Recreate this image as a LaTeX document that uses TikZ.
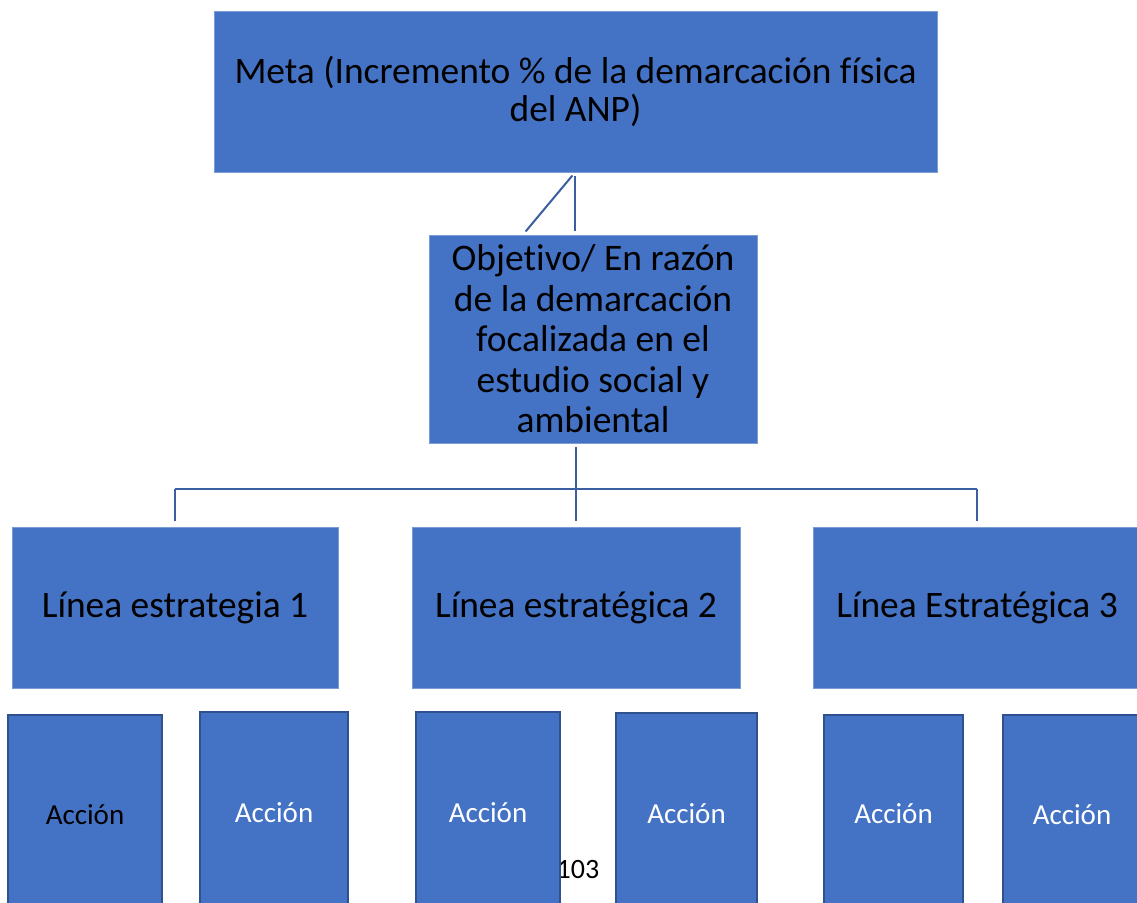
\documentclass[tikz,border=0pt]{standalone}
\usepackage{fontspec}
\setmainfont{Carlito}[Ligatures=CommonOff]
\definecolor{boxblue}{HTML}{4472C4}
\definecolor{darkblue}{HTML}{2F528F}
\definecolor{connblue}{HTML}{3A5E9F}
\begin{document}
\begin{tikzpicture}[x=1pt,y=-1pt,
  bigbox/.style={fill=boxblue, draw=boxblue!70!white, line width=0.8pt, inner sep=0pt, align=center, text=black},
  actbox/.style={fill=boxblue, draw=darkblue, line width=2pt, inner sep=0pt, align=center, text=white,
     font=\fontsize{29}{33}\selectfont},
  conn/.style={draw=connblue, line width=2pt}]
\useasboundingbox (0,0) rectangle (1137,902);
\clip (0,0) rectangle (1137,902);
\fill[white] (0,0) rectangle (1137,902);
% page number
\node[font=\fontsize{28}{30}\selectfont, text=black] (pg) at (578,869) {103};
% top
\node[bigbox, minimum width=723pt, minimum height=161pt, font=\fontsize{37.4}{38}\selectfont] (top) at (575.5,91.5)
  {Meta (Incremento \% de la demarcación física\\del ANP)};
\node[bigbox, minimum width=328pt, minimum height=208pt, font=\fontsize{37.5}{40.5}\selectfont] (obj) at (593,339)
  {Objetivo/ En razón\\de la demarcación\\focalizada en el\\estudio social y\\ambiental};
\node[bigbox, minimum width=326pt, minimum height=161pt, font=\fontsize{37.4}{40}\selectfont] (L1) at (175,607.5) {\raisebox{-2pt}{Línea estrategia 1}};
\node[bigbox, minimum width=328pt, minimum height=161pt, font=\fontsize{37.4}{40}\selectfont] (L2) at (576,607.5) {\raisebox{-2pt}{Línea estratégica 2}};
\node[bigbox, minimum width=328pt, minimum height=161pt, font=\fontsize{37.4}{40}\selectfont] (L3) at (977,607.5) {\raisebox{-2pt}{Línea Estratégica 3}};
% actions
\node[actbox, minimum width=154pt, minimum height=199pt, text=black] (A1) at (85,814.5) {\raisebox{-1pt}{Acción}};
\node[actbox, minimum width=148pt, minimum height=202pt] (A2) at (274,813) {Acción};
\node[actbox, minimum width=144pt, minimum height=202pt] (A3) at (488,813) {Acción};
\node[actbox, minimum width=141pt, minimum height=201pt] (A4) at (686.5,813.5) {\raisebox{-1pt}{Acción}};
\node[actbox, minimum width=139pt, minimum height=199pt] (A5) at (893.5,814.5) {\raisebox{1pt}{Acción}};
\node[actbox, minimum width=138pt, minimum height=199pt] (A6) at (1072,814.5) {Acción};
% connectors top
\draw[conn, shorten <=4pt, shorten >=4pt] ([xshift=-0.5pt]top.south) -- ([xshift=-18pt]obj.north);
\draw[conn, shorten <=4pt, shorten >=4pt] ([xshift=-0.5pt]top.south) -- ([xshift=-70pt]obj.north);
% connectors bottom
\coordinate (bus) at (576,489);
\draw[conn, shorten <=4pt, shorten >=6pt] ([xshift=-17pt]obj.south) -- (L2.north);
\draw[conn] (L1.north |- bus) -- (L3.north |- bus);
\draw[conn, shorten >=6pt] (L1.north |- bus) -- (L1.north);
\draw[conn, shorten >=6pt] (L3.north |- bus) -- (L3.north);
\end{tikzpicture}
\end{document}
